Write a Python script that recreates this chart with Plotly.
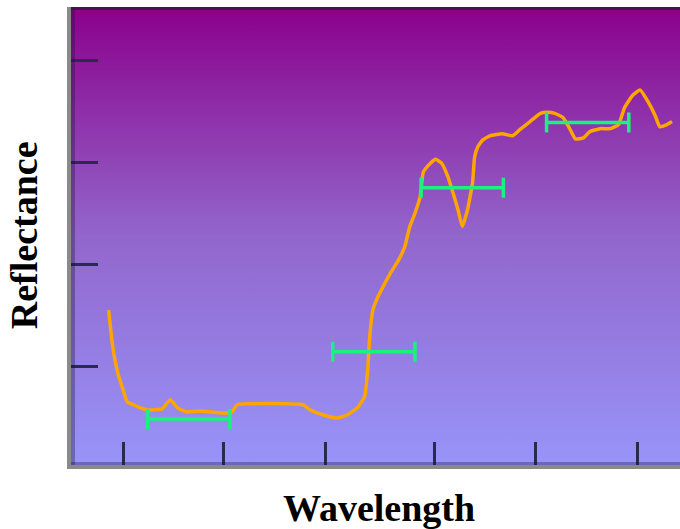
import plotly.graph_objects as go

# Reflectance spectrum (arbitrary units)
wavelength = [0.86, 0.90, 0.95, 1.00, 1.04, 1.10, 1.17, 1.24, 1.38, 1.46, 1.53, 1.62, 1.75,
              1.97, 2.06, 2.11, 2.75, 2.82, 2.95, 3.08, 3.18, 3.28, 3.35, 3.38, 3.40, 3.43,
              3.48, 3.53, 3.60, 3.68, 3.74, 3.79, 3.84, 3.89, 3.92, 3.97, 4.04, 4.10, 4.16,
              4.21, 4.26, 4.30, 4.35, 4.40, 4.42, 4.45, 4.50, 4.57, 4.69, 4.79, 4.86, 4.96,
              5.06, 5.13, 5.20, 5.28, 5.34, 5.40, 5.48, 5.54, 5.64, 5.74, 5.82, 5.88, 5.96,
              6.03, 6.11, 6.18, 6.22, 6.29, 6.34]
reflectance = [1.55, 1.19, 0.93, 0.77, 0.65, 0.62, 0.59, 0.57, 0.58, 0.67, 0.59, 0.55, 0.56,
               0.54, 0.55, 0.62, 0.62, 0.57, 0.52, 0.49, 0.52, 0.59, 0.70, 0.96, 1.29, 1.55,
               1.68, 1.78, 1.91, 2.04, 2.17, 2.37, 2.50, 2.66, 2.90, 2.97, 3.03, 2.99, 2.86,
               2.70, 2.53, 2.37, 2.53, 2.80, 3.05, 3.15, 3.22, 3.26, 3.28, 3.26, 3.32, 3.40,
               3.48, 3.49, 3.48, 3.44, 3.34, 3.23, 3.24, 3.30, 3.33, 3.33, 3.37, 3.54, 3.66,
               3.71, 3.59, 3.45, 3.35, 3.37, 3.40]

# Band averages (horizontal bars)
band_center = [1.64, 3.44, 4.30, 5.52]
band_value = [0.48, 1.14, 2.75, 3.39]
band_halfwidth = [0.40, 0.40, 0.40, 0.40]

x_ticks = [1, 1.98, 2.97, 4.03, 5.01, 6.0]
y_ticks = [1, 2, 3, 4]

x_range = [0.494, 6.418]
y_range = [0.029, 4.524]

fig = go.Figure()

# gradient background
fig.add_trace(go.Scatter(
    x=[x_range[0], x_range[1], x_range[1], x_range[0], x_range[0]],
    y=[y_range[0], y_range[0], y_range[1], y_range[1], y_range[0]],
    mode="none", fill="toself",
    fillgradient=dict(type="vertical",
                      colorscale=[[0, "#9894F9"], [0.5, "#9266CC"], [1, "#8B008B"]]),
    hoverinfo="skip", showlegend=False))

fig.add_trace(go.Scatter(
    x=wavelength, y=reflectance, mode="lines",
    line=dict(color="#FFA500", width=3.5, shape="spline", smoothing=0.4),
    showlegend=False))

fig.add_trace(go.Scatter(
    x=band_center, y=band_value, mode="markers",
    marker=dict(size=1, color="rgba(0,0,0,0)"),
    error_x=dict(type="data", array=band_halfwidth, color="#1AF27F", thickness=3.5, width=10),
    showlegend=False))

axis_common = dict(showgrid=False, zeroline=False, showticklabels=False,
                   ticks="inside", tickcolor="#2A2A4E", tickwidth=3,
                   showline=True, linecolor="#8A8A8A", linewidth=4)

fig.update_xaxes(range=x_range, tickvals=x_ticks, ticklen=23, **axis_common)
fig.update_yaxes(range=y_range, tickvals=y_ticks, ticklen=27, **axis_common)

# inner dark frame bands
fig.add_shape(type="rect", xref="paper", yref="paper", xsizemode="pixel", xanchor=0,
              x0=0, x1=4, y0=0, y1=1, line_width=0, fillcolor="rgba(30,20,60,0.35)", layer="above")
fig.add_shape(type="rect", xref="paper", yref="paper", ysizemode="pixel", yanchor=1,
              x0=0, x1=1, y0=-3, y1=0, line_width=0, fillcolor="rgba(40,30,50,0.75)", layer="above")
fig.add_shape(type="rect", xref="paper", yref="paper", ysizemode="pixel", yanchor=0,
              x0=0, x1=1, y0=0, y1=3, line_width=0, fillcolor="rgba(30,20,60,0.35)", layer="above")

title_font = dict(family="Liberation Serif", size=38, color="black")
fig.add_annotation(text="<b>Wavelength</b>", xref="paper", yref="paper",
                   x=0.506, y=-0.094, xanchor="center", yanchor="middle",
                   showarrow=False, font=title_font)
fig.add_annotation(text="<b>Reflectance</b>", xref="paper", yref="paper",
                   x=-0.077, y=0.502, xanchor="center", yanchor="middle", textangle=-90,
                   showarrow=False, font=title_font)

fig.update_layout(width=680, height=529, margin=dict(l=71, r=0, t=7, b=64),
                  paper_bgcolor="white", plot_bgcolor="#9894F9")

fig.write_html("out.html", config={"displayModeBar": False},
               post_script="document.body.style.margin='0';document.body.style.overflow='hidden';")
